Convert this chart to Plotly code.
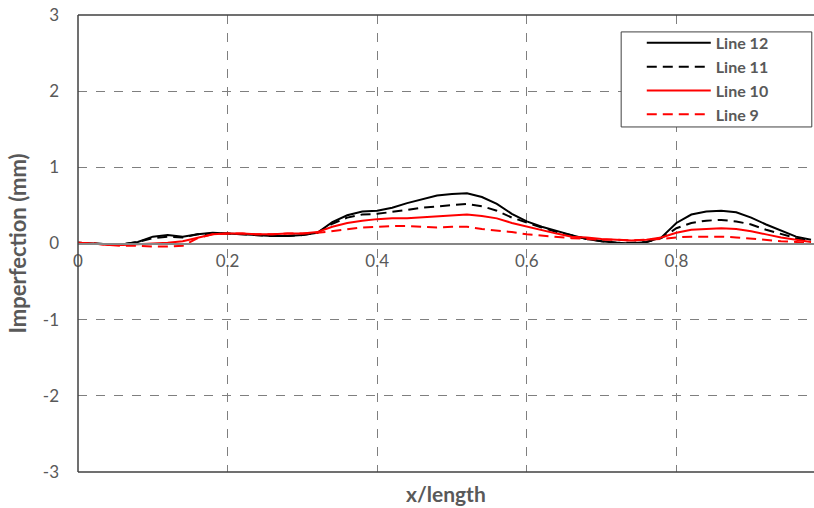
import plotly.graph_objects as go

x_pos = [round(i * 0.02, 2) for i in range(50)]

line12 = [0.01, 0.00, -0.01, -0.01, 0.02, 0.09, 0.11, 0.09, 0.12, 0.14,
          0.13, 0.12, 0.11, 0.10, 0.10, 0.11, 0.14, 0.28, 0.37, 0.42,
          0.43, 0.47, 0.53, 0.58, 0.63, 0.65, 0.66, 0.61, 0.52, 0.39,
          0.29, 0.22, 0.16, 0.11, 0.06, 0.03, 0.01, 0.00, 0.02, 0.08,
          0.27, 0.38, 0.42, 0.43, 0.41, 0.34, 0.25, 0.17, 0.09, 0.05]
line11 = [0.01, 0.00, -0.01, -0.01, 0.02, 0.07, 0.09, 0.08, 0.12, 0.13,
          0.13, 0.12, 0.11, 0.10, 0.10, 0.11, 0.14, 0.26, 0.34, 0.38,
          0.39, 0.41, 0.44, 0.47, 0.49, 0.51, 0.52, 0.49, 0.43, 0.34,
          0.27, 0.21, 0.15, 0.11, 0.06, 0.03, 0.01, 0.01, 0.02, 0.07,
          0.20, 0.27, 0.30, 0.31, 0.29, 0.25, 0.18, 0.12, 0.07, 0.03]
line10 = [0.01, 0.00, -0.02, -0.02, -0.01, 0.00, 0.01, 0.03, 0.08, 0.12,
          0.13, 0.13, 0.12, 0.12, 0.13, 0.13, 0.15, 0.22, 0.27, 0.30,
          0.32, 0.33, 0.33, 0.34, 0.36, 0.37, 0.38, 0.36, 0.33, 0.27,
          0.22, 0.18, 0.13, 0.09, 0.08, 0.06, 0.05, 0.04, 0.05, 0.08,
          0.14, 0.18, 0.19, 0.20, 0.19, 0.16, 0.12, 0.08, 0.05, 0.02]
line9 = [0.01, 0.00, -0.02, -0.03, -0.03, -0.04, -0.04, -0.03, 0.07, 0.12,
         0.13, 0.13, 0.12, 0.12, 0.13, 0.13, 0.14, 0.16, 0.19, 0.21,
         0.22, 0.23, 0.23, 0.22, 0.21, 0.22, 0.22, 0.19, 0.17, 0.15,
         0.12, 0.10, 0.09, 0.07, 0.06, 0.05, 0.05, 0.04, 0.05, 0.06,
         0.08, 0.09, 0.09, 0.09, 0.08, 0.06, 0.04, 0.03, 0.02, 0.01]

series_names = ["Line 12", "Line 11", "Line 10", "Line 9"]
series_vals = [line12, line11, line10, line9]
series_colors = ["#000000", "#000000", "#ff0000", "#ff0000"]
series_dash = ["solid", "10px,6px", "solid", "10px,6px"]

x_ticks = [0, 0.2, 0.4, 0.6, 0.8]
x_ticklabels = ["0", "0.2", "0.4", "0.6", "0.8"]
y_ticks = [-3, -2, -1, 0, 1, 2, 3]
y_ticklabels = ["-3", "-2", "-1", "0", "1", "2", "3"]

FONT = "Lato, sans-serif"
GRAY = "#595959"

fig = go.Figure()
for name, vals, col, dash in zip(series_names, series_vals, series_colors, series_dash):
    fig.add_trace(go.Scatter(x=x_pos, y=vals, mode="lines", name=name,
                             line=dict(color=col, width=2, dash=dash)))

fig.update_layout(
    width=814, height=508,
    margin=dict(l=78, r=0, t=15, b=36, autoexpand=False),
    paper_bgcolor="white", plot_bgcolor="white",
    font=dict(family=FONT, color=GRAY, size=17),
    showlegend=True,
    legend=dict(x=0.766, y=0.976, xanchor="left", yanchor="top",
                bgcolor="rgba(0,0,0,0)", borderwidth=0,
                font=dict(family=FONT, size=16, color=GRAY, weight="bold"),
                itemwidth=64, tracegroupgap=0),
    xaxis=dict(range=[0, 0.984], tickvals=x_ticks, ticktext=x_ticklabels,
               anchor="free", position=0.5, automargin=False,
               showline=True, linecolor="#868686", linewidth=2,
               showgrid=True, gridcolor="#7f7f7f", griddash="dash", gridwidth=1,
               zeroline=False, ticks="", ticklabelstandoff=2,
               tickfont=dict(family=FONT, size=17, color=GRAY)),
    yaxis=dict(range=[-3, 3], tickvals=y_ticks, ticktext=y_ticklabels,
               showline=False, automargin=False,
               showgrid=True, gridcolor="#7f7f7f", griddash="dash", gridwidth=1,
               zeroline=False, ticks="", ticklabelstandoff=18,
               tickfont=dict(family=FONT, size=17, color=GRAY),
               title=dict(text="<b>Imperfection (mm)</b>", standoff=10,
                          font=dict(family=FONT, size=22, color=GRAY))),
    shapes=[
        dict(type="line", xref="paper", yref="paper", x0=0, x1=0, y0=0, y1=1,
             line=dict(color="#404040", width=1.5)),
        dict(type="line", xref="paper", yref="paper", x0=0, x1=1, y0=1, y1=1,
             line=dict(color="#404040", width=1.5)),
        dict(type="line", xref="paper", yref="paper", x0=0, x1=1, y0=0, y1=0,
             line=dict(color="#404040", width=1.5)),
        dict(type="rect", xref="paper", yref="paper", x0=0.738, x1=0.997,
             y0=0.755, y1=0.963, layer="above", fillcolor="white",
             line=dict(color="#404040", width=1)),
    ],
    annotations=[
        dict(text="<b>x/length</b>", xref="paper", yref="paper", x=0.5, y=-0.046,
             xanchor="center", yanchor="middle", showarrow=False,
             font=dict(family=FONT, size=21, color=GRAY)),
    ],
)

fig.write_html("out.html", config={"displayModeBar": False},
               post_script="document.body.style.margin='0';")
